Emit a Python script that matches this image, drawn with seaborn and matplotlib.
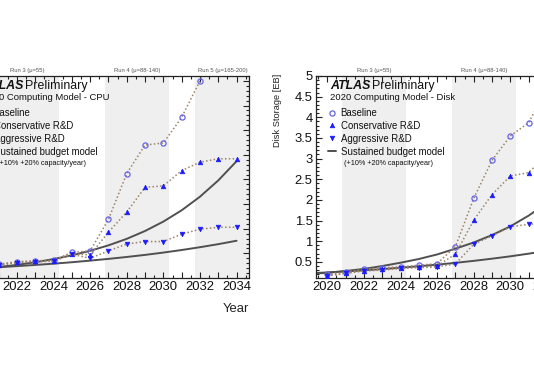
import matplotlib.pyplot as plt
import matplotlib.transforms as mtransforms
import seaborn as sns
from matplotlib.lines import Line2D
from matplotlib.ticker import MultipleLocator, FuncFormatter

years = list(range(2020, 2035))
budget_years = list(range(2019, 2035))

# CPU panel [MHS06*years]
cpu_baseline = [2.5, 2.8, 3.3, 3.5, 3.6, 5.2, 5.5, 11.9, 21.2, 27.0, 27.4, 32.6, 40.0, 48.0, 56.0]
cpu_conservative = [2.4, 2.7, 3.2, 3.4, 3.5, 4.9, 4.7, 9.3, 13.4, 18.4, 18.7, 21.8, 23.5, 24.2, 24.2]
cpu_aggressive = [2.3, 2.6, 3.1, 3.3, 3.4, 4.8, 4.0, 5.5, 6.9, 7.4, 7.4, 8.9, 9.9, 10.3, 10.3]
cpu_flat20 = [1.54, 1.85, 2.22, 2.66, 3.2, 3.84, 4.6, 5.52, 6.63, 7.95, 9.54, 11.45, 13.74, 16.5, 19.8, 23.7]
cpu_flat10 = [1.81, 1.99, 2.19, 2.41, 2.65, 2.91, 3.2, 3.53, 3.88, 4.27, 4.69, 5.16, 5.68, 6.25, 6.87, 7.56]

# Disk panel [EB]
disk_baseline = [0.195, 0.26, 0.32, 0.36, 0.38, 0.42, 0.46, 0.87, 2.04, 2.96, 3.55, 3.87, 4.7, 5.2, 5.6]
disk_conservative = [0.17, 0.23, 0.29, 0.33, 0.36, 0.38, 0.40, 0.69, 1.51, 2.13, 2.58, 2.66, 3.1, 3.2, 3.2]
disk_aggressive = [0.16, 0.22, 0.28, 0.30, 0.34, 0.36, 0.38, 0.45, 0.93, 1.13, 1.35, 1.41, 1.45, 1.5, 1.5]
disk_flat20 = [0.21, 0.235, 0.28, 0.33, 0.40, 0.48, 0.57, 0.68, 0.82, 0.97, 1.15, 1.36, 1.62, 1.93, 2.3, 2.75]
disk_flat10 = [0.223, 0.245, 0.27, 0.296, 0.326, 0.359, 0.395, 0.434, 0.477, 0.525, 0.578, 0.635, 0.699, 0.769, 0.846, 0.93]

run_names = ['Run 3 (\u03bc=55)', 'Run 4 (\u03bc=88-140)', 'Run 5 (\u03bc=165-200)']
run_start = [2020.8, 2026.8, 2031.75]
run_end = [2024.3, 2030.3, 2034.7]

band_col = '#efefef'
dot_col = '#9c8268'
budget_col = '#505050'
blue = '#1a1aff'
open_col = '#6464e6'
dotted = (0, (1, 1.5))
msize = 3.3

sns.set_style('ticks')
plt.rcParams['font.family'] = ['Liberation Sans', 'DejaVu Sans']


def draw_panel(ax, baseline, conservative, aggressive, flat10, flat20, subtitle, ylabel, ylim, ymaj, ymin):
    for s, e in zip(run_start, run_end):
        ax.axvspan(s, e, color=band_col, lw=0, zorder=0)

    sns.lineplot(x=budget_years, y=flat20, ax=ax, color=budget_col, lw=1.4, zorder=2)
    sns.lineplot(x=budget_years, y=flat10, ax=ax, color=budget_col, lw=1.4, zorder=2)

    sns.lineplot(x=years, y=baseline, ax=ax, color=dot_col, linestyle=dotted, lw=1.1,
                 marker='o', markersize=msize + 0.4, markerfacecolor='none',
                 markeredgecolor=open_col, markeredgewidth=0.9, zorder=3)
    sns.lineplot(x=years, y=conservative, ax=ax, color=dot_col, linestyle=dotted, lw=1.1,
                 marker='^', markersize=msize, markerfacecolor=blue,
                 markeredgecolor=blue, markeredgewidth=0.5, zorder=4)
    sns.lineplot(x=years, y=aggressive, ax=ax, color=dot_col, linestyle=dotted, lw=1.1,
                 marker='v', markersize=msize, markerfacecolor=blue,
                 markeredgecolor=blue, markeredgewidth=0.5, zorder=4)

    ax.set_xlim(2019.38, 2034.68)
    ax.set_ylim(*ylim)

    ax.xaxis.set_major_locator(MultipleLocator(1))
    ax.xaxis.set_minor_locator(MultipleLocator(0.5))
    ax.xaxis.set_major_formatter(FuncFormatter(lambda v, p: f'{int(round(v))}' if round(v) % 2 == 0 else ''))
    ax.yaxis.set_major_locator(MultipleLocator(ymaj))
    ax.yaxis.set_minor_locator(MultipleLocator(ymin))
    ax.yaxis.set_major_formatter(FuncFormatter(lambda v, p: f'{v:g}'))
    ax.tick_params(which='both', direction='in', top=True, right=True, width=0.8, colors='#222222')
    ax.tick_params(which='major', length=4.3, labelsize=9.4, pad=2.5, labelcolor='#111111')
    ax.tick_params(which='minor', length=2.2)
    for sp in ax.spines.values():
        sp.set_linewidth(0.9)
        sp.set_color('#222222')

    ax.set_xlabel('Year', loc='right', fontsize=9.4, labelpad=7, color='#222222')
    ax.set_ylabel(ylabel, loc='top', fontsize=6.7, color='#222222')
    ax.yaxis.set_label_coords(-0.121, 1.01)

    trans = mtransforms.blended_transform_factory(ax.transData, ax.transAxes)
    for name, s, e in zip(run_names, run_start, run_end):
        ax.text((s + e) / 2, 1.025, name, transform=trans, ha='center', va='center',
                fontsize=4.2, color='#555555')

    ax.text(0.051, 0.95, 'ATLAS', transform=ax.transAxes, ha='left', va='center',
            fontsize=8.9, fontweight='bold', fontstyle='italic', color='#111111')
    ax.text(0.2, 0.95, 'Preliminary', transform=ax.transAxes, ha='left', va='center',
            fontsize=8.9, color='#111111')
    ax.text(0.051, 0.894, subtitle, transform=ax.transAxes, ha='left', va='center',
            fontsize=6.8, color='#111111')

    handles = [
        Line2D([], [], ls='none', marker='o', ms=msize + 0.4, mfc='none', mec=open_col, mew=0.9),
        Line2D([], [], ls='none', marker='^', ms=msize, mfc=blue, mec=blue, mew=0.5),
        Line2D([], [], ls='none', marker='v', ms=msize, mfc=blue, mec=blue, mew=0.5),
        Line2D([], [], color=budget_col, lw=1.4),
    ]
    labels = ['Baseline', 'Conservative R&D', 'Aggressive R&D', 'Sustained budget model']
    leg = ax.legend(handles, labels, loc='upper left', bbox_to_anchor=(0.043, 0.842),
                    frameon=False, fontsize=6.9, handlelength=0.8, handletextpad=0.52,
                    labelspacing=0.3, borderpad=0, borderaxespad=0)
    for t in leg.get_texts():
        t.set_color('#111111')
    ax.text(0.101, 0.569, '(+10% +20% capacity/year)', transform=ax.transAxes,
            ha='left', va='center', fontsize=5.2, color='#111111')


fig = plt.figure(figsize=(5.34, 3.85), dpi=100)
ax_cpu = fig.add_axes([-31 / 534, 107 / 385, 280 / 534, 202 / 385])
ax_disk = fig.add_axes([316 / 534, 107 / 385, 280 / 534, 202 / 385])

draw_panel(ax_cpu, cpu_baseline, cpu_conservative, cpu_aggressive, cpu_flat10, cpu_flat20,
           '2020 Computing Model - CPU', 'Annual CPU Consumption [MHS06*years]', (0, 41), 5, 1)
draw_panel(ax_disk, disk_baseline, disk_conservative, disk_aggressive, disk_flat10, disk_flat20,
           '2020 Computing Model - Disk', 'Disk Storage [EB]', (0.11, 5.0), 0.5, 0.1)

fig.savefig('out.png', dpi=100)
